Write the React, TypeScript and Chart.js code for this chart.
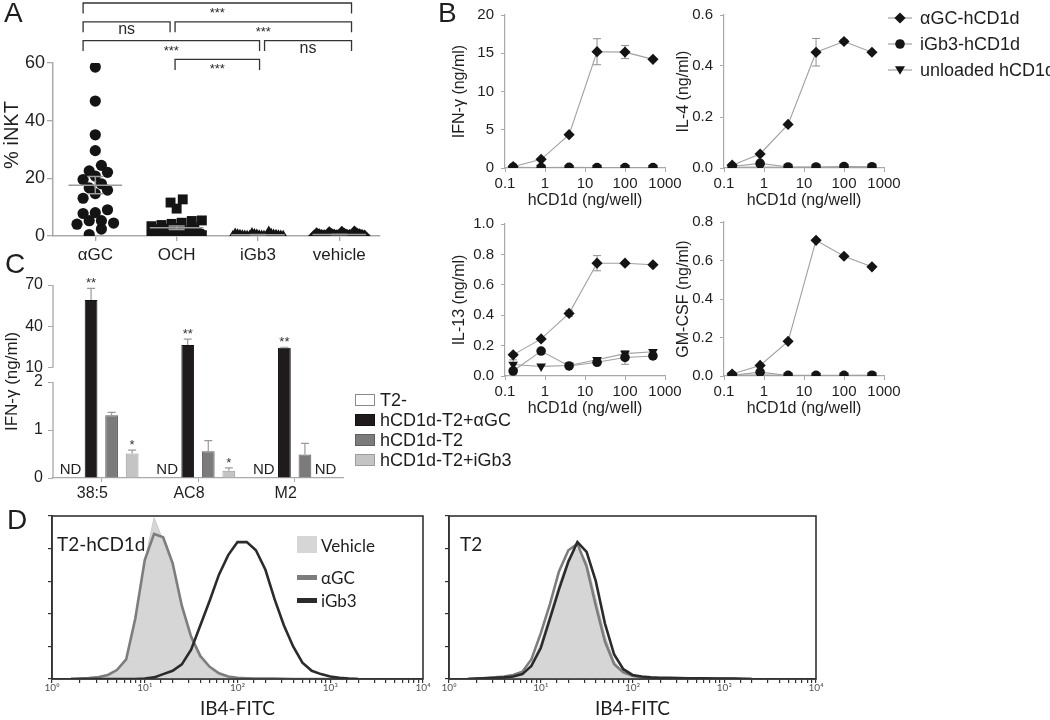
import React, { useEffect, useRef } from 'react';
import { Chart, registerables, LinearScale } from 'chart.js';

Chart.register(...registerables);

const SANS = '"Liberation Sans", Arial, Helvetica, sans-serif';
const HUM = 'Lato, "Open Sans", sans-serif';
const INK = '#1e1e1e';
const AXIS = '#a9a9a9';
const MARK = '#141414';

// ---------------- Panel A data ----------------
const aCategories = ['αGC', 'OCH', 'iGb3', 'vehicle'];
const aAlphaGC = [58.6, 46.8, 35.1, 29.6, 24.5, 22.6, 22.1, 20.8, 19.6, 18.1, 16.7, 15.9, 14.7, 13.1, 9.1, 8.1, 7.8, 5.3, 5.3, 4.5, 4.1, 2.4, 0.5];
const aOCH = [12.7, 11.6, 9.5, 5.4, 5.2, 4.6, 4.2, 3.8, 3.4, 3.1, 2.8, 2.6, 2.3, 2.1, 1.9, 1.7, 1.5, 1.3, 1.1, 0.9, 0.8, 0.7, 0.6, 0.5, 0.4, 0.3, 0.2, 0.2, 0.1, 0.1];
const aIGb3 = [1.6, 1.0, 0.9, 0.8, 0.7, 0.6, 0.5, 0.5, 0.4, 0.4, 0.3, 0.3, 0.3, 0.2, 0.2, 0.2, 0.1, 0.1, 0.1, 0.05, 0.05, 0];
const aVehicle = [1.5, 1.4, 1.2, 0.9, 0.8, 0.7, 0.6, 0.5, 0.5, 0.4, 0.4, 0.3, 0.3, 0.3, 0.2, 0.2, 0.1, 0.1, 0.1, 0.05, 0];
const aYTicks = [0, 20, 40, 60];
const aComparisons = [
  { from: 0, to: 3, label: '***', row: 0 },
  { from: 0, to: 1, label: 'ns', row: 1 },
  { from: 1, to: 3, label: '***', row: 1 },
  { from: 0, to: 2, label: '***', row: 2 },
  { from: 2, to: 3, label: 'ns', row: 2 },
  { from: 1, to: 2, label: '***', row: 3 },
];

// ---------------- Panel B data ----------------
const bDose = [0.16, 0.8, 4, 20, 100, 500];
const bXTicks = [0.1, 1, 10, 100, 1000];
const bSeriesNames = ['αGC-hCD1d', 'iGb3-hCD1d', 'unloaded hCD1d'];
const ifnAlpha = [0.17, 1.13, 4.36, 15.2, 15.15, 14.2];
const ifnAlphaErr = [0, 0, 0.15, 1.7, 0.85, 0];
const ifnIGb3 = [0.1, 0.06, 0.08, 0.05, 0.05, 0.05];
const ifnUnloaded = [0.04, 0.03, 0.04, 0.04, 0.04, 0.04];
const ifnYTicks = [0, 5, 10, 15, 20];
const il4Alpha = [0.011, 0.055, 0.171, 0.454, 0.496, 0.454];
const il4AlphaErr = [0, 0, 0, 0.054, 0.008, 0];
const il4IGb3 = [0.006, 0.018, 0.004, 0.004, 0.006, 0.005];
const il4Unloaded = [0.003, 0.004, 0.003, 0.003, 0.003, 0.003];
const il4YTicks = [0, 0.2, 0.4, 0.6];
const il13Alpha = [0.139, 0.244, 0.412, 0.742, 0.742, 0.732];
const il13AlphaErr = [0.008, 0.01, 0.02, 0.05, 0.008, 0.008];
const il13IGb3 = [0.033, 0.164, 0.066, 0.09, 0.122, 0.132];
const il13IGb3Err = [0, 0, 0.01, 0.015, 0.045, 0.015];
const il13Unloaded = [0.076, 0.063, 0.069, 0.107, 0.147, 0.16];
const il13UnloadedErr = [0.03, 0, 0.01, 0.01, 0.02, 0.012];
const il13YTicks = [0, 0.2, 0.4, 0.6, 0.8, 1.0];
const gmAlpha = [0.01, 0.055, 0.18, 0.705, 0.622, 0.567];
const gmIGb3 = [0.004, 0.02, 0.003, 0.003, 0.003, 0.004];
const gmUnloaded = [0.003, 0.006, 0.002, 0.002, 0.002, 0.003];
const gmYTicks = [0, 0.2, 0.4, 0.6, 0.8];

// ---------------- Panel C data ----------------
const cGroups = ['38:5', 'AC8', 'M2'];
const cSeriesNames = ['T2-', 'hCD1d-T2+αGC', 'hCD1d-T2', 'hCD1d-T2+iGb3'];
const cT2 = [null, null, null];
const cT2Err = [0, 0, 0];
const cAlphaGC = [59.1, 26.4, 24.4];
const cAlphaGCErr = [8.5, 4.3, 0.4];
const cPlain = [1.31, 0.56, 0.49];
const cPlainErr = [0.06, 0.22, 0.23];
const cIGb3 = [0.51, 0.15, null];
const cIGb3Err = [0.07, 0.06, 0];
const cStarsAlphaGC = ['**', '**', '**'];
const cStarsIGb3 = ['*', '*', ''];
const cYTicks = [0, 1, 2, 10, 40, 70];
const cBreakLow = 2;
const cBreakHigh = 10;

// ---------------- Panel D data ----------------
const histChannel = [1.6, 2, 2.5, 3.2, 4, 5, 6.3, 7.9, 10, 12.6, 15.8, 20, 25.1, 31.6, 39.8, 50.1, 63.1, 79.4, 100, 126, 158, 200, 251, 316, 398, 501, 631, 794, 1000, 1259, 1585, 1995];
const d1Vehicle = [0, 0, 0.3, 1, 2, 5, 11, 35, 72, 99, 85, 68, 43, 24, 12, 6, 2.5, 1, 0.5, 0.2, 0, 0, 0, 0, 0, 0, 0, 0, 0, 0, 0, 0];
const d1AlphaGC = [0, 0.3, 0.6, 1.2, 2.5, 5.5, 12, 37, 73, 89, 87, 71, 45, 26, 14, 7.5, 3.5, 1.5, 0.8, 0.5, 0.3, 0.2, 0.2, 0.1, 0, 0, 0, 0, 0, 0, 0, 0];
const d1IGb3 = [0, 0, 0, 0, 0, 0, 0, 0, 0.3, 1, 3, 5, 9, 18, 33, 48, 64, 76, 84, 84, 79, 67, 49, 33, 20, 10, 5, 3, 1.5, 0.8, 0.3, 0];
const d2Vehicle = [0, 0.3, 0.5, 1, 1.5, 2, 3.5, 9, 22, 40, 58, 74, 80, 72, 50, 27, 11, 4, 1.5, 0.8, 0.5, 0.4, 0.4, 0.3, 0.3, 0.2, 0.2, 0.1, 0.1, 0, 0, 0];
const d2AlphaGC = [0, 0.3, 0.6, 1, 1.5, 2.5, 4.5, 12, 28, 46, 66, 79, 83, 69, 45, 23, 9, 4, 2, 1, 0.6, 0.5, 0.4, 0.4, 0.3, 0.3, 0.2, 0.2, 0.1, 0.1, 0, 0];
const d2IGb3 = [0, 0.3, 0.5, 0.8, 1, 1.5, 3, 8, 19, 37, 55, 72, 84, 78, 60, 34, 15, 6, 2.5, 1.5, 1, 0.8, 0.7, 0.6, 0.5, 0.5, 0.4, 0.3, 0.3, 0.2, 0.1, 0];
const dYTicks = [0, 20, 40, 60, 80, 100];
const dLegendNames = ['Vehicle', 'αGC', 'iGb3'];

// ---------------- broken y scale for panel C ----------------
const BRK_LOW_FRAC = 0.497;
const BRK_GAP_FRAC = 0.075;
class BrokenLinearScale extends LinearScale {
  static id = 'brokenLinear';
  static defaults = LinearScale.defaults;
  getPixelForValue(value: any) {
    const v = Number(value);
    const max = this.max;
    let f;
    if (v <= cBreakLow) f = (v / cBreakLow) * BRK_LOW_FRAC;
    else if (v >= cBreakHigh) f = BRK_LOW_FRAC + BRK_GAP_FRAC + ((v - cBreakHigh) / (max - cBreakHigh)) * (1 - BRK_LOW_FRAC - BRK_GAP_FRAC);
    else f = BRK_LOW_FRAC + ((v - cBreakLow) / (cBreakHigh - cBreakLow)) * BRK_GAP_FRAC;
    return this.bottom - f * (this.bottom - this.top);
  }
}
Chart.register(BrokenLinearScale as any);

// ---------------- helpers ----------------
type Geo = { l: number; t: number; r: number; b: number; yW: number; padT: number; padR: number; xH: number };
function canvasRect(g: Geo) {
  return { left: g.l - g.yW, top: g.t - g.padT, width: g.r - g.l + g.yW + g.padR, height: g.b - g.t + g.padT + g.xH };
}
function baseOptions(g: Geo) {
  return {
    responsive: false,
    maintainAspectRatio: false,
    animation: false,
    devicePixelRatio: 1,
    layout: { padding: { top: g.padT, right: g.padR, left: 0, bottom: 0 } },
    plugins: { legend: { display: false }, tooltip: { enabled: false }, title: { display: false } },
  };
}
function gcd(a: number, b: number): number { return b === 0 ? a : gcd(b, a % b); }

function swarm(values: number[], center: number) {
  const BIN = 3.2, STEP = 0.15, SPREAD = 0.62;
  const bins: Record<string, number[]> = {};
  values.forEach((v) => {
    const k = String(Math.floor(v / BIN));
    (bins[k] = bins[k] || []).push(v);
  });
  const pts: { x: number; y: number }[] = [];
  Object.keys(bins).forEach((key) => {
    const list = bins[key].slice().sort((a, b) => a - b);
    const n = list.length;
    const s = n > 1 ? Math.min(STEP, SPREAD / (n - 1)) : 0;
    const k = [7, 5, 3, 11, 13, 1].find((m) => gcd(m, n) === 1) || 1;
    list.forEach((v, i) => {
      const slot = (i * k) % n;
      pts.push({ x: center + (slot - (n - 1) / 2) * s, y: v });
    });
  });
  return pts;
}

function ChartCanvas({ geo, make }: { geo: Geo; make: (c: HTMLCanvasElement, g: Geo) => Chart }) {
  const ref = useRef<HTMLCanvasElement | null>(null);
  useEffect(() => {
    const ch = make(ref.current as HTMLCanvasElement, geo);
    return () => ch.destroy();
  }, []);
  const r = canvasRect(geo);
  return (
    <div style={{ position: 'absolute', left: r.left, top: r.top, width: r.width, height: r.height }}>
      <canvas ref={ref} width={r.width} height={r.height} style={{ display: 'block', width: r.width, height: r.height }} />
    </div>
  );
}

// ---------------- Panel A ----------------
const aSeries = [aAlphaGC, aOCH, aIGb3, aVehicle];

const aPlugin = {
  id: 'aExtras',
  afterDatasetsDraw(chart: any) {
    const ctx = chart.ctx;
    const xs = chart.scales.x, ys = chart.scales.y;
    ctx.save();
    ctx.strokeStyle = '#9c9c9c';
    ctx.lineWidth = 1.5;
    aSeries.forEach((vals, gi) => {
      const n = vals.length;
      const m = vals.reduce((a, b) => a + b, 0) / n;
      const sd = Math.sqrt(vals.reduce((a, b) => a + (b - m) * (b - m), 0) / (n - 1));
      const sem = sd / Math.sqrt(n);
      const xc = xs.getPixelForValue(gi + 1);
      const hw = xs.getPixelForValue(gi + 1.33) - xc;
      const ym = ys.getPixelForValue(m);
      ctx.beginPath();
      ctx.moveTo(xc - hw, ym); ctx.lineTo(xc + hw, ym);
      const y1 = ys.getPixelForValue(m + sem), y2 = ys.getPixelForValue(Math.max(0, m - sem));
      ctx.moveTo(xc, y1); ctx.lineTo(xc, y2);
      ctx.moveTo(xc - hw * 0.3, y1); ctx.lineTo(xc + hw * 0.3, y1);
      ctx.moveTo(xc - hw * 0.3, y2); ctx.lineTo(xc + hw * 0.3, y2);
      ctx.stroke();
    });
    ctx.restore();
  },
  afterDraw(chart: any) {
    const ctx = chart.ctx;
    const xs = chart.scales.x;
    const top = chart.chartArea.top;
    const p0 = xs.getPixelForValue(1), p3 = xs.getPixelForValue(aCategories.length);
    const mid = (p0 + p3) / 2;
    const legX = (i: number) => mid + (xs.getPixelForValue(i + 1) - mid) * 1.1;
    ctx.save();
    ctx.strokeStyle = '#333';
    ctx.lineWidth = 1.3;
    ctx.fillStyle = '#2a2a2a';
    ctx.textAlign = 'center';
    ctx.textBaseline = 'alphabetic';
    aComparisons.forEach((c) => {
      const y = top - 60 + c.row * 18.8;
      const x1 = legX(c.from) + (c.from > 0 ? 2.5 : 0);
      const x2 = legX(c.to) - (c.to < aCategories.length - 1 ? 2.5 : 0);
      ctx.beginPath();
      ctx.moveTo(x1, y + 10.5); ctx.lineTo(x1, y); ctx.lineTo(x2, y); ctx.lineTo(x2, y + 10.5);
      ctx.stroke();
      if (c.label === 'ns') {
        ctx.font = `16px ${SANS}`;
        ctx.fillText(c.label, (x1 + x2) / 2, y + 8 + 16 * 0.26);
      } else {
        ctx.font = `13px ${SANS}`;
        ctx.fillText(c.label, (x1 + x2) / 2, y + 6.5 + 13 * 0.58);
      }
    });
    ctx.save();
    ctx.translate(12, 135);
    ctx.rotate(-Math.PI / 2);
    ctx.font = `20px ${SANS}`;
    ctx.fillStyle = INK;
    ctx.textAlign = 'center';
    ctx.textBaseline = 'middle';
    ctx.fillText('% iNKT', 0, 0);
    ctx.restore();
    ctx.restore();
  },
};

function makeA(cv: HTMLCanvasElement, g: Geo) {
  const styles = ['circle', 'rect', 'triangle', 'rectRot'];
  const radii = [5.6, 7, 6, 6.2];
  const datasets = aSeries.map((vals, gi) => ({
    label: aCategories[gi],
    data: swarm(vals, gi + 1),
    pointStyle: styles[gi],
    pointRadius: radii[gi],
    pointBackgroundColor: MARK,
    pointBorderColor: MARK,
    pointBorderWidth: 0,
    showLine: false,
  }));
  return new Chart(cv, {
    type: 'scatter',
    data: { datasets },
    options: {
      ...baseOptions(g),
      scales: {
        x: {
          type: 'linear', min: 0.48, max: 4.5,
          afterBuildTicks: (s: any) => { s.ticks = aCategories.map((_, i) => ({ value: i + 1 })); },
          afterFit: (s: any) => { s.height = g.xH; },
          ticks: { callback: (v: any) => aCategories[Math.round(v) - 1], font: { family: SANS, size: 17 }, color: INK, padding: 4, autoSkip: false, maxRotation: 0 },
          grid: { drawOnChartArea: false, drawTicks: true, tickLength: 5, color: AXIS, lineWidth: 1.3 },
          border: { color: AXIS, width: 1.5 },
        },
        y: {
          type: 'linear', min: 0, max: 60,
          afterBuildTicks: (s: any) => { s.ticks = aYTicks.map((v) => ({ value: v })); },
          afterFit: (s: any) => { s.width = g.yW; },
          ticks: { font: { family: SANS, size: 18 }, color: INK, padding: 2 },
          grid: { drawOnChartArea: false, drawTicks: true, tickLength: 6, color: AXIS, lineWidth: 1.3 },
          border: { color: AXIS, width: 1.5 },
        },
      },
    } as any,
    plugins: [aPlugin],
  } as any);
}

// ---------------- Panel B ----------------
const errorBarPlugin = {
  id: 'errBars',
  beforeDatasetsDraw(chart: any) {
    const ctx = chart.ctx;
    const ys = chart.scales.y;
    ctx.save();
    ctx.strokeStyle = '#8f8f8f';
    ctx.lineWidth = 1;
    chart.data.datasets.forEach((ds: any, i: number) => {
      const errs = ds.errors;
      if (!errs) return;
      const meta = chart.getDatasetMeta(i);
      meta.data.forEach((el: any, j: number) => {
        const e = errs[j];
        if (!e) return;
        const v = ds.data[j].y;
        const y1 = ys.getPixelForValue(v + e);
        const y2 = ys.getPixelForValue(Math.max(0, v - e));
        ctx.beginPath();
        ctx.moveTo(el.x, y1); ctx.lineTo(el.x, y2);
        ctx.moveTo(el.x - 4, y1); ctx.lineTo(el.x + 4, y1);
        ctx.moveTo(el.x - 4, y2); ctx.lineTo(el.x + 4, y2);
        ctx.stroke();
      });
    });
    ctx.restore();
  },
};

function makeB(cv: HTMLCanvasElement, g: Geo, cfg: any) {
  const mk = (name: string, ys: number[], errs: number[] | null, style: string, radius: number, rot: number) => ({
    label: name,
    data: bDose.map((x, i) => ({ x, y: ys[i] })),
    errors: errs,
    borderColor: '#a0a0a0',
    borderWidth: 1.1,
    pointStyle: style,
    pointRadius: radius,
    pointRotation: rot,
    pointBackgroundColor: MARK,
    pointBorderColor: MARK,
    pointBorderWidth: 0,
    tension: 0,
    fill: false,
  });
  const datasets = [
    mk(bSeriesNames[0], cfg.a, cfg.aErr, 'rectRot', 5.6, 0),
    mk(bSeriesNames[1], cfg.c, cfg.cErr, 'circle', 4.8, 0),
    mk(bSeriesNames[2], cfg.t, cfg.tErr, 'triangle', 5.6, 180),
  ];
  return new Chart(cv, {
    type: 'line',
    data: { datasets },
    options: {
      ...baseOptions(g),
      scales: {
        x: {
          type: 'logarithmic', min: 0.1, max: 1000,
          afterBuildTicks: (s: any) => { s.ticks = bXTicks.map((v) => ({ value: v })); },
          afterFit: (s: any) => { s.height = g.xH; },
          ticks: { callback: (v: any) => String(v), font: { family: SANS, size: 15 }, color: INK, padding: 3, autoSkip: false, maxRotation: 0 },
          grid: { drawOnChartArea: false, drawTicks: true, tickLength: 4, color: AXIS },
          border: { color: AXIS, width: 1.2 },
          title: { display: true, text: 'hCD1d (ng/well)', font: { family: SANS, size: 16 }, color: INK, padding: 0 },
        },
        y: {
          type: 'linear', min: 0, max: cfg.yTicks[cfg.yTicks.length - 1],
          afterBuildTicks: (s: any) => { s.ticks = cfg.yTicks.map((v: number) => ({ value: v })); },
          afterFit: (s: any) => { s.width = g.yW; },
          ticks: { callback: (v: any) => Number(v).toFixed(cfg.dec), font: { family: SANS, size: 15 }, color: INK, padding: 7 },
          grid: { drawOnChartArea: false, drawTicks: true, tickLength: 4, color: AXIS },
          border: { color: AXIS, width: 1.2 },
          title: { display: true, text: cfg.title, font: { family: SANS, size: 16 }, color: INK, padding: 0 },
        },
      },
    } as any,
    plugins: [errorBarPlugin],
  } as any);
}

// ---------------- Panel C ----------------
const cPlugin = {
  id: 'cExtras',
  afterDatasetsDraw(chart: any) {
    const ctx = chart.ctx;
    const ys = chart.scales.y;
    const area = chart.chartArea;
    ctx.save();
    ctx.strokeStyle = AXIS;
    ctx.lineWidth = 1.3;
    ctx.beginPath();
    ctx.moveTo(area.left, ys.getPixelForValue(0));
    ctx.lineTo(area.left, ys.getPixelForValue(cBreakLow));
    ctx.moveTo(area.left, ys.getPixelForValue(cBreakHigh));
    ctx.lineTo(area.left, ys.getPixelForValue(cYTicks[cYTicks.length - 1]));
    ctx.stroke();
    chart.data.datasets.forEach((ds: any, i: number) => {
      const meta = chart.getDatasetMeta(i);
      meta.data.forEach((el: any, j: number) => {
        const v = ds.data[j];
        if (v === null || v === undefined) {
          ctx.fillStyle = INK;
          ctx.font = `15px ${SANS}`;
          ctx.textAlign = 'center';
          ctx.textBaseline = 'middle';
          ctx.fillText('ND', el.x, ys.getPixelForValue(0) - 8);
          return;
        }
        const e = ds.errors ? ds.errors[j] : 0;
        const yTop = ys.getPixelForValue(v + e);
        if (e) {
          const yv = ys.getPixelForValue(v);
          ctx.strokeStyle = '#9a9a9a';
          ctx.lineWidth = 1.2;
          ctx.beginPath();
          ctx.moveTo(el.x, yv); ctx.lineTo(el.x, yTop);
          ctx.moveTo(el.x - 4, yTop); ctx.lineTo(el.x + 4, yTop);
          ctx.stroke();
        }
        const star = ds.stars ? ds.stars[j] : '';
        if (star) {
          ctx.fillStyle = '#333';
          ctx.font = `13px ${SANS}`;
          ctx.textAlign = 'center';
          ctx.textBaseline = 'alphabetic';
          ctx.fillText(star, el.x, yTop - 1);
        }
      });
    });
    ctx.restore();
  },
};

function makeC(cv: HTMLCanvasElement, g: Geo) {
  const colors = [
    { bg: '#ffffff', bd: '#8a8a8a' },
    { bg: '#1f1b1c', bd: '#111111' },
    { bg: '#7b7b7b', bd: '#5f5f5f' },
    { bg: '#c4c4c4', bd: '#9c9c9c' },
  ];
  const values = [cT2, cAlphaGC, cPlain, cIGb3];
  const errs = [cT2Err, cAlphaGCErr, cPlainErr, cIGb3Err];
  const stars = [null, cStarsAlphaGC, null, cStarsIGb3];
  const datasets = values.map((vals, i) => ({
    label: cSeriesNames[i],
    data: vals,
    errors: errs[i],
    stars: stars[i],
    backgroundColor: colors[i].bg,
    borderColor: colors[i].bd,
    borderWidth: 1,
    categoryPercentage: 0.85,
    barPercentage: 0.62,
  }));
  return new Chart(cv, {
    type: 'bar',
    data: { labels: cGroups, datasets },
    options: {
      ...baseOptions(g),
      scales: {
        x: {
          type: 'category',
          afterFit: (s: any) => { s.height = g.xH; },
          ticks: { font: { family: SANS, size: 16 }, color: INK, padding: 2, labelOffset: -9, maxRotation: 0 },
          grid: { drawOnChartArea: false, drawTicks: true, tickLength: 4, color: AXIS, offset: false },
          border: { color: AXIS, width: 1.3 },
        },
        y: {
          type: 'brokenLinear', min: 0, max: 70,
          afterBuildTicks: (s: any) => { s.ticks = cYTicks.map((v) => ({ value: v })); },
          afterFit: (s: any) => { s.width = g.yW; },
          ticks: { callback: (v: any) => String(v), font: { family: SANS, size: 16 }, color: INK, padding: 5 },
          grid: { drawOnChartArea: false, drawTicks: true, tickLength: 5, color: AXIS },
          border: { display: false },
          title: { display: true, text: 'IFN-γ (ng/ml)', font: { family: SANS, size: 17 }, color: INK, padding: { top: 2, bottom: 0 } },
        },
      },
    } as any,
    plugins: [cPlugin],
  } as any);
}

// ---------------- Panel D ----------------
const SUP = ['⁰', '¹', '²', '³', '⁴'];
const framePlugin = {
  id: 'frame',
  afterDraw(chart: any) {
    const a = chart.chartArea;
    const ctx = chart.ctx;
    ctx.save();
    ctx.strokeStyle = '#333';
    ctx.lineWidth = 1.6;
    ctx.strokeRect(a.left, a.top, a.right - a.left, a.bottom - a.top);
    ctx.restore();
  },
};

function makeD(cv: HTMLCanvasElement, g: Geo, curves: { vehicle: number[]; agc: number[]; igb3: number[] }) {
  const toPts = (ys: number[]) => histChannel.map((x, i) => ({ x, y: ys[i] }));
  return new Chart(cv, {
    type: 'line',
    data: {
      datasets: [
        { label: dLegendNames[2], data: toPts(curves.igb3), borderColor: '#2b2b2b', borderWidth: 2.6, pointRadius: 0, fill: false, tension: 0 },
        { label: dLegendNames[1], data: toPts(curves.agc), borderColor: '#7d7d7d', borderWidth: 2.6, pointRadius: 0, fill: false, tension: 0 },
        { label: dLegendNames[0], data: toPts(curves.vehicle), borderColor: '#cbcbcb', backgroundColor: '#d6d6d6', borderWidth: 1, pointRadius: 0, fill: 'origin', tension: 0 },
      ],
    },
    options: {
      ...baseOptions(g),
      scales: {
        x: {
          type: 'logarithmic', min: 1, max: 10000,
          afterFit: (s: any) => { s.height = g.xH; },
          ticks: {
            callback: (v: any) => {
              const l = Math.log10(Number(v));
              return Math.abs(l - Math.round(l)) < 1e-6 ? '10' + SUP[Math.round(l)] : '';
            },
            font: { family: HUM, size: 10 }, color: '#555', padding: -1, autoSkip: false, maxRotation: 0,
          },
          grid: { drawOnChartArea: false, drawTicks: true, tickLength: 4, color: '#333', lineWidth: 1.2 },
          border: { color: '#333', width: 1.6 },
          title: { display: true, text: 'IB4-FITC', font: { family: HUM, size: 19 }, color: INK, padding: 0 },
        },
        y: {
          type: 'linear', min: 0, max: 100,
          afterBuildTicks: (s: any) => { s.ticks = dYTicks.map((v) => ({ value: v })); },
          afterFit: (s: any) => { s.width = g.yW; },
          ticks: { callback: () => '', padding: 0 },
          grid: { drawOnChartArea: false, drawTicks: true, tickLength: 4, color: '#333', lineWidth: 1.2 },
          border: { color: '#333', width: 1.6 },
        },
      },
    } as any,
    plugins: [framePlugin],
  } as any);
}

// ---------------- geometry ----------------
const geoA: Geo = { l: 53, t: 63, r: 381, b: 236, yW: 53, padT: 63, padR: 6, xH: 30 };
const geoB1: Geo = { l: 505, t: 9, r: 665, b: 168, yW: 55, padT: 10, padR: 20, xH: 42 };
const geoB2: Geo = { l: 724, t: 9, r: 884, b: 168, yW: 50, padT: 10, padR: 20, xH: 42 };
const geoB3: Geo = { l: 505, t: 217.5, r: 665, b: 376, yW: 55, padT: 10, padR: 20, xH: 42 };
const geoB4: Geo = { l: 724, t: 216, r: 884, b: 376, yW: 50, padT: 10, padR: 20, xH: 42 };
const geoC: Geo = { l: 53, t: 285, r: 343, b: 478, yW: 53, padT: 25, padR: 5, xH: 28 };
const geoD1: Geo = { l: 52, t: 516, r: 423, b: 679, yW: 10, padT: 8, padR: 12, xH: 41 };
const geoD2: Geo = { l: 449, t: 516, r: 816, b: 679, yW: 10, padT: 8, padR: 12, xH: 41 };

// ---------------- HTML text helpers ----------------
function Txt({ x, y, size, family = SANS, color = INK, children }: any) {
  return (
    <div style={{ position: 'absolute', left: x, top: y - size / 2, fontSize: size, lineHeight: `${size}px`, fontFamily: family, color, whiteSpace: 'nowrap' }}>
      {children}
    </div>
  );
}

function BMarker({ shape }: { shape: string }) {
  return (
    <svg width={28} height={16} style={{ display: 'block' }}>
      <line x1={2} y1={8} x2={26} y2={8} stroke="#a0a0a0" strokeWidth={1.2} />
      {shape === 'diamond' && <polygon points="14,2.4 19.6,8 14,13.6 8.4,8" fill={MARK} />}
      {shape === 'circle' && <circle cx={14} cy={8} r={4.8} fill={MARK} />}
      {shape === 'tri' && <polygon points="9,4.2 19,4.2 14,12.8" fill={MARK} />}
    </svg>
  );
}

const bLegendRows = [18, 44, 70];
const bLegendShapes = ['diamond', 'circle', 'tri'];
const cLegendRows = [400, 420, 440, 460];
const cLegendFill = ['#ffffff', '#1f1b1c', '#7b7b7b', '#c4c4c4'];
const cLegendBorder = ['#8a8a8a', '#111111', '#5f5f5f', '#9c9c9c'];

export default function App() {
  return (
    <div style={{ position: 'fixed', left: 0, top: 0, width: 1050, height: 720, overflow: 'hidden', background: '#fff', fontFamily: SANS, color: INK }}>
      <ChartCanvas geo={geoA} make={makeA} />
      <ChartCanvas geo={geoB1} make={(c, g) => makeB(c, g, { a: ifnAlpha, aErr: ifnAlphaErr, c: ifnIGb3, cErr: null, t: ifnUnloaded, tErr: null, yTicks: ifnYTicks, dec: 0, title: 'IFN-γ (ng/ml)' })} />
      <ChartCanvas geo={geoB2} make={(c, g) => makeB(c, g, { a: il4Alpha, aErr: il4AlphaErr, c: il4IGb3, cErr: null, t: il4Unloaded, tErr: null, yTicks: il4YTicks, dec: 1, title: 'IL-4 (ng/ml)' })} />
      <ChartCanvas geo={geoB3} make={(c, g) => makeB(c, g, { a: il13Alpha, aErr: il13AlphaErr, c: il13IGb3, cErr: il13IGb3Err, t: il13Unloaded, tErr: il13UnloadedErr, yTicks: il13YTicks, dec: 1, title: 'IL-13 (ng/ml)' })} />
      <ChartCanvas geo={geoB4} make={(c, g) => makeB(c, g, { a: gmAlpha, aErr: null, c: gmIGb3, cErr: null, t: gmUnloaded, tErr: null, yTicks: gmYTicks, dec: 1, title: 'GM-CSF (ng/ml)' })} />
      <ChartCanvas geo={geoC} make={makeC} />
      <ChartCanvas geo={geoD1} make={(c, g) => makeD(c, g, { vehicle: d1Vehicle, agc: d1AlphaGC, igb3: d1IGb3 })} />
      <ChartCanvas geo={geoD2} make={(c, g) => makeD(c, g, { vehicle: d2Vehicle, agc: d2AlphaGC, igb3: d2IGb3 })} />

      <Txt x={4} y={12.5} size={28}>A</Txt>
      <Txt x={438} y={13} size={28}>B</Txt>
      <Txt x={5} y={264} size={28}>C</Txt>
      <Txt x={7} y={520} size={28}>D</Txt>

      {bLegendRows.map((y, i) => (
        <div key={i} style={{ position: 'absolute', left: 886, top: y - 11, height: 22, display: 'flex', alignItems: 'center', whiteSpace: 'nowrap' }}>
          <BMarker shape={bLegendShapes[i]} />
          <span style={{ marginLeft: 6, fontSize: 18, fontFamily: SANS, color: INK }}>{bSeriesNames[i]}</span>
        </div>
      ))}

      {cLegendRows.map((y, i) => (
        <React.Fragment key={i}>
          <div style={{ position: 'absolute', left: 355, top: y - 6, width: 20, height: 12, boxSizing: 'border-box', background: cLegendFill[i], border: `1px solid ${cLegendBorder[i]}` }} />
          <Txt x={380} y={y} size={18}>{cSeriesNames[i]}</Txt>
        </React.Fragment>
      ))}

      <Txt x={57} y={543} size={19} family={HUM}>T2-hCD1d</Txt>
      <Txt x={460} y={543} size={19} family={HUM}>T2</Txt>
      <div style={{ position: 'absolute', left: 297, top: 536, width: 20, height: 17, background: '#d6d6d6' }} />
      <div style={{ position: 'absolute', left: 297, top: 575, width: 20, height: 5, background: '#7d7d7d' }} />
      <div style={{ position: 'absolute', left: 297, top: 598, width: 20, height: 5, background: '#2b2b2b' }} />
      <Txt x={321} y={545} size={17} family={HUM}>{dLegendNames[0]}</Txt>
      <Txt x={321} y={577} size={17} family={HUM}>{dLegendNames[1]}</Txt>
      <Txt x={321} y={600} size={17} family={HUM}>{dLegendNames[2]}</Txt>
    </div>
  );
}
